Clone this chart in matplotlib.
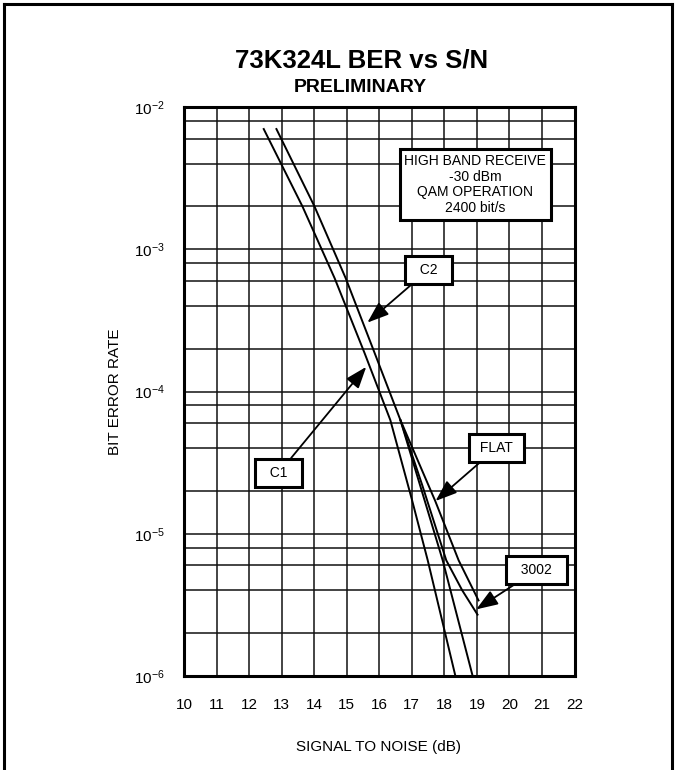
import matplotlib
matplotlib.use("Agg")
import matplotlib.pyplot as plt
from matplotlib.lines import Line2D
from matplotlib.ticker import FixedLocator, FixedFormatter, LogLocator, NullFormatter

plt.rcParams['font.family'] = ['Liberation Sans', 'DejaVu Sans']
plt.rcParams['mathtext.default'] = 'regular'

# axis ticks
snr_ticks = list(range(10, 23))
ber_ticks = [1e-6, 1e-5, 1e-4, 1e-3, 1e-2]
ber_tick_labels = ['10$^{-6}$', '10$^{-5}$', '10$^{-4}$', '10$^{-3}$', '10$^{-2}$']
ber_minor_subs = [2, 4, 6, 8]

# curves (S/N in dB, BER)
c1_snr = [12.45, 13.64, 14.63, 15.55, 16.34, 17.0, 17.49, 18.34]
c1_ber = [7.0e-3, 2.0e-3, 6.25e-4, 1.86e-4, 6.3e-5, 1.75e-5, 6.5e-6, 1.0e-6]
c2_snr = [12.84, 14.01, 14.97, 15.86, 16.65, 17.95, 18.87]
c2_ber = [7.0e-3, 2.0e-3, 6.25e-4, 1.86e-4, 6.3e-5, 6.5e-6, 1.0e-6]
flat_snr = [16.65, 17.72, 18.44, 19.05]
flat_ber = [6.3e-5, 1.7e-5, 6.5e-6, 3.4e-6]
l3002_snr = [16.65, 17.32, 18.06, 18.55, 19.02]
l3002_ber = [6.3e-5, 2.2e-5, 6.5e-6, 4.0e-6, 2.7e-6]

# callout labels: text, box centre (snr, ber), arrow tip (snr, ber)
callout_text = ['  C1  ', '  C2  ', ' FLAT ', '  3002  ']
callout_box = [(12.91, 2.67e-5), (17.51, 7.15e-4), (19.60, 4.0e-5), (20.84, 5.56e-6)]
callout_tip = [(15.60, 1.49e-4), (15.635, 3.05e-4), (17.73, 1.70e-5), (18.98, 2.94e-6)]

info_lines = ['HIGH BAND RECEIVE', '-30 dBm', 'QAM OPERATION', '2400 bit/s']

fig = plt.figure(figsize=(6.76, 7.70), dpi=100)
ax = fig.add_axes([184 / 676, 1 - 676 / 770, 390.5 / 676, 569 / 770])

for xs, ys in [(c1_snr, c1_ber), (c2_snr, c2_ber), (flat_snr, flat_ber), (l3002_snr, l3002_ber)]:
    ax.plot(xs, ys, color='black', lw=1.4, zorder=3)

ax.set_yscale('log')
ax.set_xlim(10, 22)
ax.set_ylim(1e-6, 1e-2)
ax.xaxis.set_major_locator(FixedLocator(snr_ticks))
ax.yaxis.set_major_locator(FixedLocator(ber_ticks))
ax.yaxis.set_major_formatter(FixedFormatter(ber_tick_labels))
ax.yaxis.set_minor_locator(LogLocator(base=10, subs=ber_minor_subs))
ax.yaxis.set_minor_formatter(NullFormatter())
ax.grid(True, which='both', color='#111111', lw=1.1, zorder=1)
ax.tick_params(axis='both', which='both', length=0, labelsize=11)
ax.tick_params(axis='x', pad=16)
ax.tick_params(axis='y', pad=14)
for sp in ax.spines.values():
    sp.set_linewidth(2.2)
    sp.set_zorder(4)

ax.set_ylabel('BIT ERROR RATE', fontsize=11)
ax.yaxis.set_label_coords(-0.16, 0.5)
fig.text(379 / 676, 1 - 747 / 770, 'SIGNAL TO NOISE (dB)', fontsize=11, ha='center', va='center')

fig.text(362 / 676, 1 - 61 / 770, '73K324L BER vs S/N', fontsize=18.5, fontweight='bold',
         ha='center', va='center')
fig.text(360 / 676, 1 - 88 / 770, 'PRELIMINARY', fontsize=14, fontweight='bold',
         ha='center', va='center')

for txt, box, tip in zip(callout_text, callout_box, callout_tip):
    ax.annotate(txt, xy=tip, xytext=box, ha='center', va='center', fontsize=10, zorder=6,
                bbox=dict(boxstyle='square,pad=0.5', fc='white', ec='black', lw=2.2),
                arrowprops=dict(arrowstyle='-|>,head_length=0.6,head_width=0.22', color='black',
                                lw=1.3, mutation_scale=22, shrinkA=0, shrinkB=0))

ax.text(0.746, 0.864, '\n'.join(info_lines), transform=ax.transAxes, ha='center', va='center',
        fontsize=10, linespacing=1.15, zorder=6,
        bbox=dict(boxstyle='square,pad=0.35', fc='white', ec='black', lw=2.2))

# page frame
fig.add_artist(Line2D([4 / 676, 4 / 676], [0, 1 - 4 / 770], transform=fig.transFigure, color='black', lw=2.2))
fig.add_artist(Line2D([4 / 676, 672 / 676], [1 - 4 / 770, 1 - 4 / 770], transform=fig.transFigure, color='black', lw=2.2))
fig.add_artist(Line2D([672 / 676, 672 / 676], [0, 1 - 4 / 770], transform=fig.transFigure, color='black', lw=2.2))

fig.savefig('out.png', dpi=100)
